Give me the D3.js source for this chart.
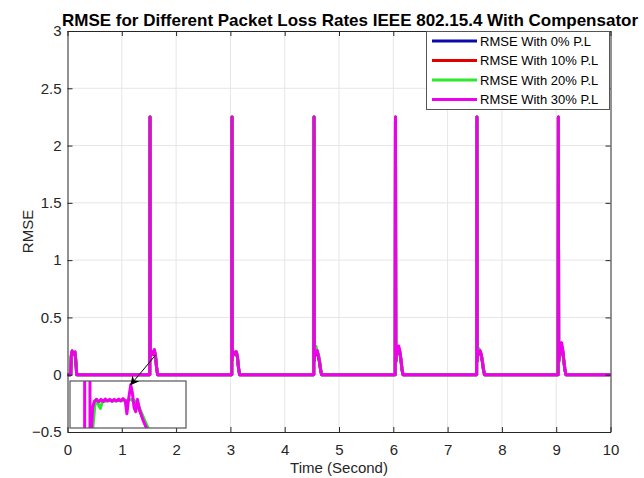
<!DOCTYPE html>
<html>
<head>
<meta charset="utf-8">
<script src="https://cdn.jsdelivr.net/npm/d3@7/dist/d3.min.js"></script>
<style>
  html, body { margin: 0; padding: 0; background: #fff; }
  svg { display: block; font-family: "Liberation Sans", Arial, sans-serif; }
</style>
</head>
<body>
<svg id="chart" width="644" height="478"></svg>
<script>
// Simulation time (s) shared by all four RMSE traces
const time = [
  0, 0.06, 0.07, 0.085, 0.10, 0.12, 0.14, 0.155, 0.17,
  1.515, 1.52, 1.526, 1.535, 1.555, 1.58, 1.60, 1.62, 1.64, 1.66,
  3.025, 3.03, 3.036, 3.045, 3.065, 3.09, 3.11, 3.13, 3.15, 3.17,
  4.535, 4.54, 4.546, 4.555, 4.575, 4.60, 4.62, 4.64, 4.66, 4.68,
  6.035, 6.04, 6.046, 6.055, 6.075, 6.10, 6.12, 6.14, 6.16, 6.18,
  7.535, 7.54, 7.546, 7.555, 7.575, 7.60, 7.62, 7.64, 7.66, 7.68,
  9.035, 9.04, 9.046, 9.055, 9.075, 9.10, 9.12, 9.14, 9.16, 9.18,
  10
];

// RMSE per packet-loss rate
const rmse0 = [
  0, 0, 0.16, 0.19, 0.18, 0.18, 0.18, 0.1, 0,
  0, 2.25, 0.14, 0.18, 0.19, 0.18, 0.2, 0.16, 0.06, 0,
  0, 2.25, 0.13, 0.19, 0.18, 0.19, 0.19, 0.15, 0.05, 0,
  0, 2.25, 0.12, 0.19, 0.18, 0.19, 0.16, 0.11, 0.04, 0,
  0, 2.25, 0.11, 0.17, 0.19, 0.21, 0.19, 0.13, 0.04, 0,
  0, 2.25, 0.12, 0.18, 0.19, 0.19, 0.17, 0.11, 0.04, 0,
  0, 2.25, 0.11, 0.16, 0.19, 0.23, 0.2, 0.12, 0.04, 0,
  0
];
const rmse10 = [
  0, 0, 0.16, 0.2, 0.18, 0.18, 0.19, 0.11, 0,
  0, 2.25, 0.14, 0.18, 0.19, 0.18, 0.21, 0.16, 0.07, 0,
  0, 2.25, 0.13, 0.19, 0.18, 0.19, 0.19, 0.15, 0.06, 0,
  0, 2.25, 0.12, 0.2, 0.2, 0.2, 0.16, 0.12, 0.05, 0,
  0, 2.25, 0.11, 0.17, 0.19, 0.22, 0.2, 0.13, 0.05, 0,
  0, 2.25, 0.12, 0.19, 0.2, 0.2, 0.17, 0.12, 0.05, 0,
  0, 2.25, 0.11, 0.16, 0.19, 0.24, 0.21, 0.12, 0.05, 0,
  0
];
const rmse20 = [
  0, 0, 0.17, 0.21, 0.19, 0.19, 0.2, 0.12, 0,
  0, 2.25, 0.15, 0.19, 0.2, 0.19, 0.21, 0.17, 0.08, 0,
  0, 2.25, 0.14, 0.2, 0.19, 0.2, 0.2, 0.16, 0.06, 0,
  0, 2.25, 0.14, 0.22, 0.25, 0.2, 0.18, 0.14, 0.06, 0,
  0, 2.25, 0.12, 0.18, 0.21, 0.23, 0.2, 0.14, 0.05, 0,
  0, 2.25, 0.13, 0.2, 0.23, 0.2, 0.18, 0.13, 0.05, 0,
  0, 2.25, 0.12, 0.17, 0.2, 0.25, 0.21, 0.13, 0.05, 0,
  0
];
const rmse30 = [
  0, 0, 0.17, 0.21, 0.19, 0.19, 0.2, 0.1, 0,
  0, 2.25, 0.15, 0.19, 0.2, 0.19, 0.22, 0.17, 0.07, 0,
  0, 2.25, 0.14, 0.2, 0.19, 0.2, 0.2, 0.16, 0.06, 0,
  0, 2.25, 0.13, 0.2, 0.19, 0.21, 0.17, 0.12, 0.05, 0,
  0, 2.25, 0.12, 0.18, 0.2, 0.25, 0.21, 0.14, 0.05, 0,
  0, 2.25, 0.13, 0.19, 0.2, 0.21, 0.18, 0.12, 0.05, 0,
  0, 2.25, 0.12, 0.17, 0.2, 0.28, 0.22, 0.13, 0.05, 0,
  0
];

// Magnified view of the first post-spike transient (t ≈ 1.5–1.65 s)
const zoomTime30 = [1.5165, 1.5172, 1.5255, 1.5262, 1.531, 1.534, 1.538, 1.542, 1.546, 1.550, 1.554, 1.558, 1.562, 1.566, 1.570, 1.574, 1.578, 1.582, 1.586, 1.590, 1.593, 1.596, 1.600, 1.603, 1.606, 1.609, 1.612, 1.616, 1.622, 1.630, 1.638];
const zoomRmse30 = [0, 2.25, 2.25, 0.05, 0.17, 0.185, 0.19, 0.184, 0.19, 0.185, 0.191, 0.186, 0.19, 0.185, 0.19, 0.186, 0.191, 0.186, 0.192, 0.187, 0.155, 0.19, 0.226, 0.205, 0.17, 0.16, 0.19, 0.165, 0.14, 0.115, 0.095];
const zoomTime20 = [1.530, 1.535, 1.538, 1.542, 1.545, 1.549, 1.553, 1.560, 1.570, 1.580, 1.590, 1.600, 1.608, 1.614, 1.620, 1.628, 1.638];
const zoomRmse20 = [0.10, 0.175, 0.19, 0.175, 0.168, 0.186, 0.185, 0.188, 0.186, 0.188, 0.186, 0.19, 0.185, 0.175, 0.155, 0.13, 0.10];
const zoomTime10 = [1.600, 1.608, 1.614, 1.620, 1.626, 1.634];
const zoomRmse10 = [0.19, 0.185, 0.17, 0.15, 0.13, 0.105];

const seriesNames = ["RMSE With 0% P.L", "RMSE With 10% P.L", "RMSE With 20% P.L", "RMSE With 30% P.L"];
const seriesColors = ["#0a0aa8", "#e00000", "#2ee82e", "#ee00ee"];
const xTicks = [0, 1, 2, 3, 4, 5, 6, 7, 8, 9, 10];
const yTicks = [-0.5, 0, 0.5, 1, 1.5, 2, 2.5, 3];

const svg = d3.select("#chart");
const m = { left: 67.5, right: 610.5, top: 31, bottom: 432 };
const x = d3.scaleLinear().domain([0, 10]).range([m.left, m.right]);
const y = d3.scaleLinear().domain([-0.5, 3]).range([m.bottom, m.top]);
const axisColor = "#262626";

// grid
const grid = svg.append("g").attr("stroke", "#e6e6e6").attr("stroke-width", 1);
xTicks.slice(1, -1).forEach(t => grid.append("line").attr("x1", x(t)).attr("x2", x(t)).attr("y1", m.top).attr("y2", m.bottom));
yTicks.slice(1, -1).forEach(t => grid.append("line").attr("y1", y(t)).attr("y2", y(t)).attr("x1", m.left).attr("x2", m.right));

// data lines
svg.append("clipPath").attr("id", "plotClip").append("rect")
  .attr("x", m.left).attr("y", m.top).attr("width", m.right - m.left).attr("height", m.bottom - m.top);
const series = [rmse0, rmse10, rmse20, rmse30];
const line = d3.line().x(d => x(d[0])).y(d => y(d[1]));
const plot = svg.append("g").attr("clip-path", "url(#plotClip)");
series.forEach((vals, i) => {
  plot.append("path")
    .attr("d", line(time.map((t, k) => [t, vals[k]])))
    .attr("fill", "none").attr("stroke", seriesColors[i])
    .attr("stroke-width", 3).attr("stroke-linejoin", "round");
});

// axes (box with inward ticks on all four sides)
const tickLen = 5;
svg.append("g").attr("transform", `translate(0,${m.bottom})`)
  .call(d3.axisBottom(x).tickValues(xTicks).tickSizeInner(-tickLen).tickSizeOuter(0).tickPadding(12).tickFormat(d3.format("d")));
svg.append("g").attr("transform", `translate(0,${m.top})`)
  .call(d3.axisTop(x).tickValues(xTicks).tickSizeInner(-tickLen).tickSizeOuter(0).tickFormat(""));
svg.append("g").attr("transform", `translate(${m.left},0)`)
  .call(d3.axisLeft(y).tickValues(yTicks).tickSizeInner(-tickLen).tickSizeOuter(0).tickPadding(6).tickFormat(d => d3.format("")(d)));
svg.append("g").attr("transform", `translate(${m.right},0)`)
  .call(d3.axisRight(y).tickValues(yTicks).tickSizeInner(-tickLen).tickSizeOuter(0).tickFormat(""));
svg.selectAll(".domain, .tick line").attr("stroke", axisColor).attr("stroke-width", 1);
svg.selectAll(".tick text").attr("fill", axisColor).attr("font-size", 15).attr("font-family", "Liberation Sans, Arial, sans-serif");

// titles
svg.append("text").attr("x", 350).attr("y", 26).attr("text-anchor", "middle")
  .attr("font-size", 17).attr("font-weight", "bold").attr("fill", "#000")
  .text("RMSE for Different Packet Loss Rates IEEE 802.15.4 With Compensator");
svg.append("text").attr("x", (m.left + m.right) / 2).attr("y", 473).attr("text-anchor", "middle")
  .attr("font-size", 15).attr("fill", axisColor).text("Time (Second)");
svg.append("text").attr("transform", `translate(33,${(m.top + m.bottom) / 2}) rotate(-90)`)
  .attr("text-anchor", "middle").attr("font-size", 15).attr("fill", axisColor).text("RMSE");

// inset
const inset = { x0: 70, x1: 186, y0: 381, y1: 428 };
const ix = d3.scaleLinear().domain([1.49, 1.70]).range([inset.x0, inset.x1]);
const iy = d3.scaleLinear().domain([0.12, 0.235]).range([inset.y1, inset.y0]);
svg.append("rect").attr("x", inset.x0).attr("y", inset.y0)
  .attr("width", inset.x1 - inset.x0).attr("height", inset.y1 - inset.y0)
  .attr("fill", "#fff");
svg.append("clipPath").attr("id", "insetClip").append("rect")
  .attr("x", inset.x0).attr("y", inset.y0).attr("width", inset.x1 - inset.x0).attr("height", inset.y1 - inset.y0);
const iline = d3.line().x(d => ix(d[0])).y(d => iy(d[1]));
const ig = svg.append("g").attr("clip-path", "url(#insetClip)");
[[zoomTime10, zoomRmse10, 1], [zoomTime20, zoomRmse20, 2], [zoomTime30, zoomRmse30, 3]].forEach(([ts, vs, ci]) => {
  ig.append("path").attr("d", iline(ts.map((t, k) => [t, vs[k]])))
    .attr("fill", "none").attr("stroke", seriesColors[ci]).attr("stroke-width", 3)
    .attr("stroke-linejoin", "round");
});
svg.append("rect").attr("x", inset.x0).attr("y", inset.y0)
  .attr("width", inset.x1 - inset.x0).attr("height", inset.y1 - inset.y0)
  .attr("fill", "none").attr("stroke", "#555").attr("stroke-width", 1.2);

// arrow from the transient in the main plot to its magnified peak
svg.append("defs").append("marker").attr("id", "arrowHead")
  .attr("viewBox", "0 0 10 10").attr("refX", 9).attr("refY", 5)
  .attr("markerWidth", 9).attr("markerHeight", 9).attr("orient", "auto")
  .append("path").attr("d", "M0,0 L10,5 L0,10 L3,5 Z").attr("fill", "#000");
const peakIdx = zoomRmse30.indexOf(d3.max(zoomRmse30.slice(4)));
svg.append("line")
  .attr("x1", x(1.62)).attr("y1", y(0.17))
  .attr("x2", ix(zoomTime30[peakIdx])).attr("y2", iy(zoomRmse30[peakIdx]))
  .attr("stroke", "#000").attr("stroke-width", 1).attr("marker-end", "url(#arrowHead)");

// legend
const lg = svg.append("g");
lg.append("rect").attr("x", 426.5).attr("y", 31.5).attr("width", 183).attr("height", 78)
  .attr("fill", "#fff").attr("stroke", "#555").attr("stroke-width", 1);
seriesNames.forEach((name, i) => {
  const cy = 41 + i * 19.5;
  lg.append("line").attr("x1", 432).attr("x2", 477).attr("y1", cy).attr("y2", cy)
    .attr("stroke", seriesColors[i]).attr("stroke-width", 3);
  lg.append("text").attr("x", 480).attr("y", cy + 4.5).attr("font-size", 13)
    .attr("fill", "#000").text(name);
});
</script>
</body>
</html>
